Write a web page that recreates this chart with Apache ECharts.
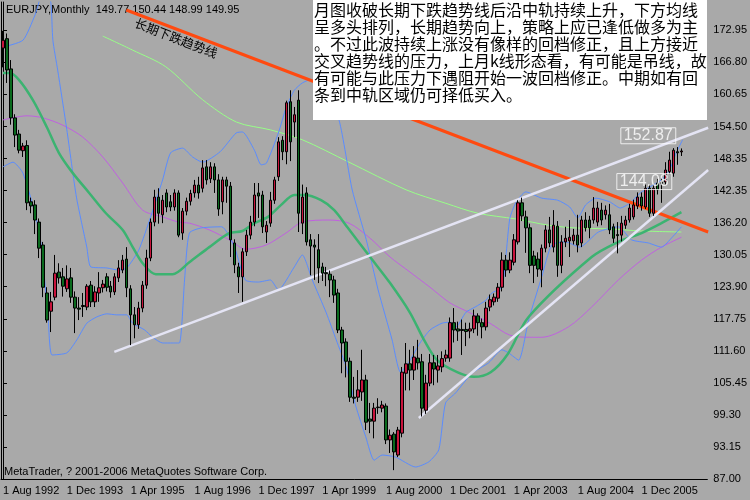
<!DOCTYPE html>
<html><head><meta charset="utf-8">
<script src="https://cdn.jsdelivr.net/npm/echarts@6/dist/echarts.min.js"></script>
<style>html,body{margin:0;padding:0;background:#a9a9a9}#c{width:750px;height:500px}</style>
</head><body><div id="c"></div>
<script>
// ---- data ----
const xTickLabels = ['1 Aug 1992','1 Dec 1993','1 Apr 1995','1 Aug 1996','1 Dec 1997','1 Apr 1999','1 Aug 2000','1 Dec 2001','1 Apr 2003','1 Aug 2004','1 Dec 2005','',''];
const yTickLabels = ['87.00','93.15','99.30','105.45','111.60','117.75','123.90','130.05','136.20','142.35','148.35','154.50','160.65','166.80','172.95'];
// monthly candles [open, close, low, high]
const ohlc = [
[169.7,171.2,166,173],[171.5,165.5,163,172.5],[165.7,156.3,155,167.4],[156.3,153,150.7,157],[153.2,150.1,149.5,154],
[150,150.9,148.8,151.5],[151,140,138.6,152],[140.2,139.4,138,141],[139.6,136.7,134,140.5],[136.3,131.3,129.4,137],
[131.9,123.8,121.9,132.5],[122.7,117.5,117,123.8],[119.2,121,115.2,122.9],[121.9,126.5,121.3,130],[126.7,125.6,124.5,128.4],
[125.8,124,122,127.5],[123.5,125.4,122.9,128],[125.6,121.9,120.8,127.5],[121.9,119.8,115,123],[119.8,119.6,117.5,121.9],
[120.3,120.1,118.1,122.7],[120,124,119.4,124.4],[124.2,121,120,125],[121,122.9,120,124],[122.7,123.7,121,126.7],
[123.7,124.4,122.8,125.2],[125.8,123.8,123,126.5],[124,122.9,121.8,125],[122.9,125.8,122.3,126.5],[125.6,127.5,124.8,129],
[127.1,129,126.5,130],[129.2,123.7,121.9,131.5],[123.5,118.5,112.7,124.2],[118.5,116.6,114,120],[116.6,119.8,115.8,121],
[119.8,124.2,119,125],[124.2,129.4,123.5,131],[129.4,136.3,128.8,137],[136.3,141.1,135.5,142.5],[141.1,138,136,142.8],
[137.7,140.5,136.1,141.5],[141.9,139.2,138.2,142.6],[140.2,139.2,138.4,141.5],[139.2,141.9,138.5,142.6],[141.9,133.8,133.4,142.4],
[134.2,138.4,132.9,139],[138.4,140.3,137.6,141],[140.3,141.8,139.5,142.5],[141.9,143.4,141,144.4],[143.4,141.9,140.8,145],
[142.8,146.7,142,148.2],[146.9,144.4,143.5,148.2],[144.6,146.9,143.8,147.8],[146.9,144.4,141.9,147.6],[144.4,138.8,137.5,145.5],
[140.2,144.4,137.8,145],[144.4,143.2,140,145],[143.2,132.9,129.6,144],[132.3,128.1,126.5,133],[127.7,125.8,122.7,128.5],
[125.8,130.6,121,131.3],[130.6,133.8,129.8,134.8],[133.8,136.3,133,137.5],[136.3,141.5,135.5,143.8],[141.9,141.3,137.1,143.8],
[141.5,135.4,134.2,142.3],[134.4,135.7,132.3,136.5],[136.1,140.5,135.4,142.1],[140.5,144.4,139.8,145],[145,151.7,144.2,152.6],
[152,149.8,148.2,152.8],[149.8,159.2,147.4,159.6],[159.4,151.7,148,161.6],[155.5,156.9,152.6,158.4],[159.7,138,134.4,161.6],
[136.1,141.1,134,143.5],[141.9,132.5,131.8,143],[132.9,131.7,126.1,134],[131.9,131.5,125.2,133],[131,127.5,124.6,134],
[127.7,126.5,125,128.5],[126.6,126.4,124,127.7],[126.3,125.2,121.9,127],[125.2,122.3,120.8,126],[122.7,115.6,115,123.5],
[115.6,113.1,107.3,116.2],[113.3,109.6,106.5,114],[109.6,102.7,101.8,110.3],[102.7,102.5,101.5,106.6],[102.7,104.1,101.8,107.9],
[103.7,106,102,111.8],[106,97.9,96.4,107],[98.5,98.1,95.8,101.6],[98.1,100.6,94.8,101.6],[100.8,100.7,99.5,102.5],
[100.6,101.2,99.8,102],[101,94.5,93.7,101.5],[94.5,95.4,92,96.5],[95.6,92.2,88.7,96],[91.6,96.4,91.2,97],
[95.8,107.5,95,108.5],[107.3,109.1,104,113.1],[109.1,107.9,104,111.8],[107.9,110.4,106,112.5],[110.2,109.3,108,113.7],
[109.5,100.6,99,111],[100.2,105.4,99.5,107],[105.4,109.3,104.8,111],[109.3,108.1,105,110.8],[107.9,108.7,105.5,110.8],
[108.5,110.1,107.5,111.5],[110.2,110.8,109.5,111.8],[110.2,117,109.5,118],[117,115.6,113.2,119.8],[115.8,115.4,113.5,117.2],
[115.7,115.5,110.8,117.6],[115.7,115.3,112.5,117],[115.4,115.8,114,117],[115.8,118.3,115,119.5],[118.3,117,114.5,118.8],
[117,116.2,114,117.8],[116.2,119.8,115.5,121],[120,121.4,119.2,122.4],[121,121.9,120.3,122.6],[121.7,123.8,121,124.6],
[123.8,129,123,130.5],[129,127.1,125.8,130],[127.1,129,126.5,130.5],[128.6,132.9,128,134],[132.5,140,132,140.5],
[140,137.5,136.5,141],[137.3,135.2,130.4,138.5],[135.2,128,126.5,136],[129.8,128,124.6,130.8],[129.2,127.3,125.8,130.5],
[127.1,131.3,123.8,132],[131.3,134.8,130.5,135.7],[134.8,132.3,131.5,137.3],[131.5,135.7,130.5,138.6],[135.5,128,125.8,136.5],
[128,132.5,126.5,133.8],[132.5,133.2,131.5,135.4],[132.7,133.4,129.6,136.7],[132.7,133.8,132,135],[133.8,131.9,130.5,137.7],
[132.3,136.7,131.5,137.5],[136.7,135.2,134.5,138.2],[136.7,135.2,133.2,137.5],[136.7,139,136,141.1],[136.3,139,135.5,140.2],
[138.6,136.7,135.7,140],[137.7,138.6,136.8,139.5],[137.7,134.8,134,139.8],[135.4,133.2,132.3,136],[133.9,133.7,130.3,136.3],
[133.8,136.1,132.6,137.5],[135.7,136.7,135,137.5],[136.7,139,136.2,139.8],[137.3,139.6,136.8,140.6],[139.4,141.1,138.8,142],
[141.1,139.4,138.5,142],[139.2,142.8,138.8,143.5],[142.8,138,137.3,143.4],[138,142.8,137.5,143.6],[143.8,142.5,141.6,144.6],
[143.9,143.7,140,144.8],[144,146.3,143.5,147.8],[146,148.2,145.5,149.8],[145.7,150.1,145,150.5],[149.8,149.6,147.3,150.7],
[149.77,149.95,148.99,150.44]
];
const lastClose = 149.95;
const categoryCount = 177;
// indicator curves: [month index, price]
const bbUpper = [[0,169.9],[5,171.2],[8,176],[9,178.5],[10.5,183],[12,178.3],[12.5,171.2],[13.7,165.5],[16,154.0],[18.4,141.1],[21,131.5],[22,127.7],[26,127.5],[29,127.1],[31,127.5],[34,130.9],[37,137.3],[40,144.4],[42,149.6],[45,150.5],[47.5,148.8],[50,147.8],[54.4,149.8],[58.4,153.4],[60,153.6],[63,150.1],[64.7,147.3],[66,147.6],[69,153.4],[71,158.4],[73,161.6],[75,163.0],[77,163.6],[80,163],[84.2,155.9],[87.5,142.5],[91,133.0],[94,123.3],[97.5,113.7],[99.6,107.5],[101.6,109.3],[104.5,113.1],[107,115.6],[110,116.9],[112,117.1],[113.5,116.2],[116,119.0],[118.3,120.0],[121,121.3],[122.5,122.7],[125,123.8],[126,129.6],[127,137],[128.5,140],[131,142.1],[135,140.9],[139,140.5],[142,139.2],[144,137.1],[146,139.6],[148.6,140.9],[152,140.2],[154.7,139.0],[157,139.9],[159.7,141.9],[162,143.0],[165,144.4],[167,146.3],[168.7,149.6],[170.3,152.1]];
const bbLower = [[0,146.9],[2.5,147.8],[5,145.7],[8,138.0],[9.5,132.3],[11.3,118.1],[12.3,110.8],[16,111.2],[18.5,113.7],[21,116.9],[23.5,118.1],[26,118.7],[28.5,118.5],[31,118.5],[32.5,116.9],[35.5,115.6],[37.5,114.2],[40,113.1],[42.5,113.1],[44.2,113.1],[45.5,125.2],[46.7,134.2],[49.8,135.2],[54.8,135.4],[58,131.5],[60.7,125.2],[64,124.8],[67,125.2],[69,123.3],[73,127.7],[75,130.0],[77.5,125.2],[81,118.9],[83.5,113.7],[86,108.5],[88.4,101.0],[90.9,95.1],[93,90.6],[95,91.6],[98.4,91.2],[103.4,89.3],[106.7,90.3],[109.2,92.6],[110.9,101.6],[113.4,103.5],[117.5,107.3],[121.7,109.3],[125,111.8],[126.7,111.2],[129.2,109.8],[131.7,117.5],[135,125.8],[137.5,131.9],[141,132.5],[144.5,131.5],[149.2,134.4],[154.2,135.4],[157.5,132.9],[161.7,132.3],[165,131.5],[167.7,133.4],[170,135.4]];
const maGreen = [[0,164.9],[1.6,164.9],[4,163.6],[7.5,159.7],[11,154.5],[14,149.6],[17.5,145.7],[21.6,141.9],[25.8,138.0],[30,134.8],[32.5,131.5],[35,128.4],[38.3,126.3],[42.5,126.3],[46.7,128.6],[51.7,131.5],[56.7,134.2],[60,134.6],[63,136.1],[66.4,137.3],[69.7,139.6],[73,141.5],[75.6,141.5],[79.7,140.5],[83,138.6],[86.4,135.2],[92,129.6],[97,124.6],[102,118.9],[105.5,113.7],[108.8,109.8],[113.8,107.5],[118,106.6],[122.2,107.5],[126.5,111.0],[131.7,118.1],[147.5,129.6],[154.2,132.5],[160,134.2],[165,136.1],[170,138.2]];
const maPurple = [[0,155.9],[6,156.7],[10,156.3],[15,154.9],[20,152.6],[25,148.8],[30,143.8],[35,138.6],[40,137.3],[44,136.3],[46.7,136.1],[51.7,134.8],[56.7,132.9],[60.9,131.1],[65.9,131.9],[70.9,134.2],[75,136.3],[81.7,136.7],[86.7,136.1],[92,133.2],[97,129.6],[102,126.7],[107,123.8],[112,120.8],[117,118.9],[122,116.9],[127,114.6],[132,114.2],[135,114.2],[141.7,116.2],[147.5,120.0],[154.2,125.2],[160,129.0],[165,131.5],[170,133.4]];
const maLight = [[25,172.0],[32.5,169.3],[40.8,166.1],[50,159.8],[58.5,155.5],[67,154.0],[75,152.1],[86.7,147.8],[101,142.5],[111,139.9],[119,138.0],[128.5,136.9],[136.7,135.7],[143,135.2],[151.7,135.0],[160,134.6],[170,134.4]];
// trendlines [month index, price]
const downTrend = [[30.9,177.0],[176.7,134.4]];
const upperChannel = [[27.9,111.4],[176.7,154.4]];
const risingLine = [[104.2,98.7],[176.7,146.3]];
const priceTags = [[161.7,152.87],[160.7,144.08]];
const titleText = 'EURJPY,Monthly  149.77 150.44 148.99 149.95';
const trendText = '长期下跌趋势线';
const noteLines = ['月图收破长期下跌趋势线后沿中轨持续上升，下方均线','呈多头排列，长期趋势向上，策略上应已逢低做多为主','。不过此波持续上涨没有像样的回档修正，且上方接近','交叉趋势线的压力，上月k线形态看，有可能是吊线，故','有可能与此压力下遇阻开始一波回档修正。中期如有回','条到中轨区域仍可择低买入。'];

// ---- chart ----
const cats = Array.from({length: categoryCount}, (_, i) => i);
const chart = echarts.init(document.getElementById('c'));
const font = 'Liberation Sans, DejaVu Sans, sans-serif';
function lineS(data, color, width, smooth) {
  return {type:'line', xAxisIndex:1, yAxisIndex:0, data, showSymbol:false, smooth: smooth, z:3,
    lineStyle:{color, width}, silent:true, animation:false};
}
chart.setOption({
  backgroundColor:'#a9a9a9',
  animation:false,
  grid:{left:1, width:708, top:2, height:477},
  xAxis:[
    {type:'category', data:cats, boundaryGap:true, position:'bottom',
     axisLine:{lineStyle:{color:'#000'}},
     axisTick:{interval:15, lineStyle:{color:'#000'}, length:4},
     axisLabel:{interval:15, align:'left', margin:6, color:'#000', fontSize:11, fontFamily:font,
       formatter:(v, idx)=> xTickLabels[Math.round(idx/16)] || ''},
     splitLine:{show:false}},
    {type:'value', min:-0.5, max:categoryCount-0.5, show:false}
  ],
  yAxis:[
    {type:'value', position:'right', min:87, max:178.54, interval:6.15,
     axisLine:{show:true, lineStyle:{color:'#000'}},
     axisTick:{show:true, length:4, lineStyle:{color:'#000'}},
     axisLabel:{color:'#000', fontSize:11, fontFamily:font, margin:6, showMaxLabel:false,
       formatter:(v)=> yTickLabels[Math.round((v-87)/6.15)] || ''},
     splitLine:{show:false}},
    {type:'value', position:'left', min:87, max:178.54, axisLine:{show:true, lineStyle:{color:'#000'}},
     axisLabel:{show:false}, axisTick:{show:false}, splitLine:{show:false}}
  ],
  series:[
    lineS(maLight, '#98ff88', 1, 0.3),
    lineS(maPurple, '#c060e0', 1, 0.3),
    lineS(bbUpper, '#5a8cff', 1, 0.2),
    lineS(bbLower, '#5a8cff', 1, 0.2),
    lineS(maGreen, '#3cb371', 2.5, 0.3),
    {type:'candlestick', xAxisIndex:0, yAxisIndex:0, data:ohlc, barWidth:3, z:4,
     itemStyle:{color:'#c8143c', color0:'#0a6a1e', borderColor:'#000', borderColor0:'#000', borderWidth:1},
     markLine:{symbol:'none', silent:true, data:[{yAxis:lastClose}], lineStyle:{opacity:0},
       label:{position:'end', distance:4, formatter:()=>lastClose.toFixed(2), color:'#fff', backgroundColor:'#000', padding:[1,3,0,3], fontSize:11, fontFamily:font}}},
    lineS(downTrend, '#ff4a10', 3, false),
    lineS(upperChannel, '#e4e4f4', 2.5, false),
    lineS(risingLine, '#e4e4f4', 2.5, false),
    {type:'scatter', xAxisIndex:1, yAxisIndex:0, data:priceTags, symbolSize:0, z:6,
     label:{show:true, position:'inside', formatter:(p)=>p.value[1].toFixed(2), color:'#fff', fontSize:16, fontFamily:font,
       borderColor:'#fff', borderWidth:1, padding:[0,3,0,3]}}
  ],
  graphic:[
    {type:'text', left:6, top:4, style:{text:titleText, fill:'#000', font:'11px '+font}},
    {type:'text', left:4, top:466, style:{text:'MetaTrader, ? 2001-2006 MetaQuotes Software Corp.', fill:'#000', font:'11px '+font}},
    {type:'text', x:176, y:38, rotation:-0.37, style:{text:trendText, fill:'#000', font:'12.5px "Noto Sans CJK SC"', align:'center', verticalAlign:'middle'}},
    {type:'rect', left:313, top:0, shape:{width:394, height:120}, style:{fill:'#fff'}, z:10},
    {type:'text', left:314, top:1, z:11, style:{text:noteLines.join('\n'), fill:'#000', font:'16px "Noto Sans CJK SC"', lineHeight:17}}
  ]
});
</script></body></html>
